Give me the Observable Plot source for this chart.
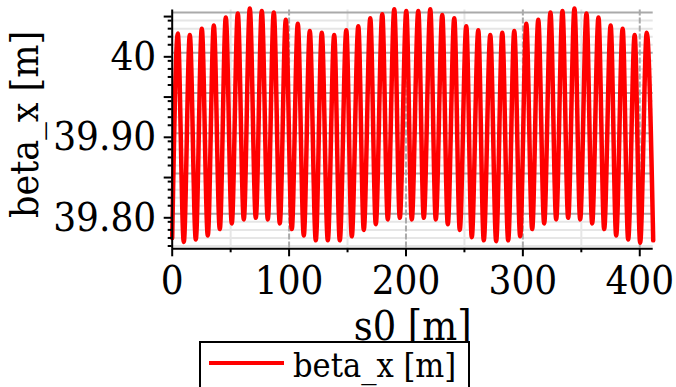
<!DOCTYPE html>
<html>
<head>
<meta charset="utf-8">
<script src="https://cdn.jsdelivr.net/npm/d3@7"></script>
<script src="https://cdn.jsdelivr.net/npm/@observablehq/plot@0.6"></script>
<style>
  html, body { margin: 0; padding: 0; background: white; }
  #wrap { position: relative; width: 676px; height: 387px; overflow: hidden; }
  .serif { font-family: "DejaVu Serif Condensed", "DejaVu Serif", serif; font-stretch: condensed; }
  #legend { position: absolute; left: 199px; top: 341px; width: 271px; height: 60px;
            border: 2px solid black; background: white; box-sizing: border-box; }
  #legend .swatch { position: absolute; left: 8px; top: 18px; width: 75px; height: 4px; background: red; }
  #legend .lab { position: absolute; left: 92px; top: 2px; font-size: 34px; line-height: 40px; white-space: nowrap; color: black; }
</style>
</head>
<body>
<div id="wrap" class="serif"></div>
<script>
// ---- data (extrema of beta_x along s0) ----
const peakS = [4.79, 15.06, 25.32, 35.59, 45.85, 56.12, 66.38, 76.65, 86.91, 97.18,
  107.44, 117.71, 127.97, 138.58, 148.93, 159.20, 169.46, 179.73, 189.99, 200.26,
  210.52, 220.79, 231.05, 241.32, 251.58, 261.85, 272.11, 282.38, 292.64, 302.91,
  313.17, 323.61, 333.88, 344.14, 354.41, 364.67, 375.11, 385.37, 395.64, 405.99];
const peakBeta = [40.024, 40.022, 40.030, 40.034, 40.044, 40.049, 40.055, 40.052, 40.050, 40.041,
  40.036, 40.027, 40.025, 40.022, 40.028, 40.033, 40.043, 40.048, 40.054, 40.052,
  40.052, 40.054, 40.047, 40.043, 40.033, 40.028, 40.022, 40.025, 40.027, 40.036,
  40.041, 40.050, 40.052, 40.055, 40.049, 40.044, 40.034, 40.030, 40.022, 40.025];
const troughS = [0, 9.92, 20.19, 30.45, 40.72, 50.98, 61.25, 71.51, 81.78, 92.04, 102.31,
  112.57, 122.84, 133.11, 143.37, 153.64, 163.90, 174.17, 184.43, 194.70, 204.96,
  215.23, 225.49, 235.76, 246.02, 256.29, 266.55, 277.16, 287.43, 297.69, 307.96,
  318.22, 328.49, 338.75, 349.02, 359.28, 369.55, 379.81, 390.08, 400.34, 411.5];
const troughBeta = [39.770, 39.765, 39.768, 39.773, 39.781, 39.788, 39.793, 39.795, 39.793, 39.788, 39.781,
  39.773, 39.767, 39.767, 39.767, 39.772, 39.780, 39.787, 39.793, 39.795, 39.793,
  39.795, 39.793, 39.787, 39.780, 39.771, 39.767, 39.766, 39.767, 39.772, 39.781,
  39.788, 39.793, 39.795, 39.793, 39.788, 39.781, 39.773, 39.768, 39.764, 39.767];

// ---- axes / ticks ----
const xDomain = [0, 411.5];
const yDomain = [39.7565, 40.0532];
const xMajorTicks = [0, 100, 200, 300, 400];
const xMinorTicks = [50, 150, 250, 350];
const yMajorTicks = [39.80, 39.85, 39.90, 39.95, 40.00, 40.05];
const yMinorTicks = [39.76, 39.77, 39.78, 39.79, 39.81, 39.82, 39.83, 39.84, 39.86, 39.87,
  39.88, 39.89, 39.91, 39.92, 39.93, 39.94, 39.96, 39.97, 39.98, 39.99, 40.01, 40.02,
  40.03, 40.04];
const yLabelValues = [39.80, 39.90, 40.00];
const yLabelTexts = ["39.80", "39.90", "40"];
const xLabel = "s0 [m]";
const yLabel = "beta_x [m]";
const seriesName = "beta_x [m]";

const data = [
  ...peakS.map((s, i) => ({s, beta: peakBeta[i]})),
  ...troughS.map((s, i) => ({s, beta: troughBeta[i]}))
].sort((a, b) => a.s - b.s);

const yFmt = d => {
  const i = yLabelValues.findIndex(v => Math.abs(v - d) < 1e-6);
  return i >= 0 ? yLabelTexts[i] : "";
};

const FONT = '"DejaVu Serif Condensed", "DejaVu Serif", serif';

const chart = Plot.plot({
  width: 676,
  height: 387,
  marginLeft: 171.7,
  marginRight: 23.3,
  marginTop: 9.5,
  marginBottom: 138.7,
  style: {fontFamily: FONT, background: "white", color: "black"},
  x: {domain: xDomain, label: null},
  y: {domain: yDomain, label: null},
  marks: [
    Plot.gridY({ticks: yMinorTicks, stroke: "#e6e6e6", strokeOpacity: 1, strokeWidth: 2}),
    Plot.gridX({ticks: xMinorTicks, stroke: "#e6e6e6", strokeOpacity: 1, strokeWidth: 2}),
    Plot.gridY({ticks: yMajorTicks, stroke: "#aaaaaa", strokeOpacity: 1, strokeWidth: 2}),
    Plot.gridX({ticks: xMajorTicks.filter(d => d > 0), stroke: "#aaaaaa", strokeOpacity: 1, strokeWidth: 2, strokeDasharray: "6,2"}),
    Plot.line(data, {x: "s", y: "beta", stroke: "red", strokeWidth: 4.5, curve: "monotone-x"}),
    Plot.ruleX([xDomain[0]], {stroke: "black", strokeWidth: 2}),
    Plot.ruleY([yDomain[0]], {stroke: "black", strokeWidth: 2}),
    Plot.axisX({ticks: xMajorTicks, tickSize: 8, tickPadding: 9, strokeWidth: 2, fontSize: 40, label: null}),
    Plot.axisX({ticks: xMinorTicks, tickSize: 4, strokeWidth: 2, tickFormat: () => "", label: null}),
    Plot.axisY({ticks: yMajorTicks, tickSize: 8, tickPadding: 8, strokeWidth: 2, fontSize: 40, tickFormat: yFmt, dy: 4, label: null}),
    Plot.axisY({ticks: yMinorTicks, tickSize: 4, strokeWidth: 2, tickFormat: () => "", label: null}),
    Plot.text([xLabel], {frameAnchor: "bottom", dy: 91, fontSize: 41, lineAnchor: "bottom", textAnchor: "middle", fill: "black"}),
    Plot.text([yLabel], {frameAnchor: "left", dx: -147, dy: -5, rotate: -90, fontSize: 39, textAnchor: "middle", lineAnchor: "middle", fill: "black"})
  ]
});

const wrap = document.getElementById("wrap");
wrap.appendChild(chart);

const legend = document.createElement("div");
legend.id = "legend";
legend.innerHTML = '<div class="swatch"></div><div class="lab"></div>';
legend.querySelector(".lab").textContent = seriesName;
wrap.appendChild(legend);
</script>
</body>
</html>
